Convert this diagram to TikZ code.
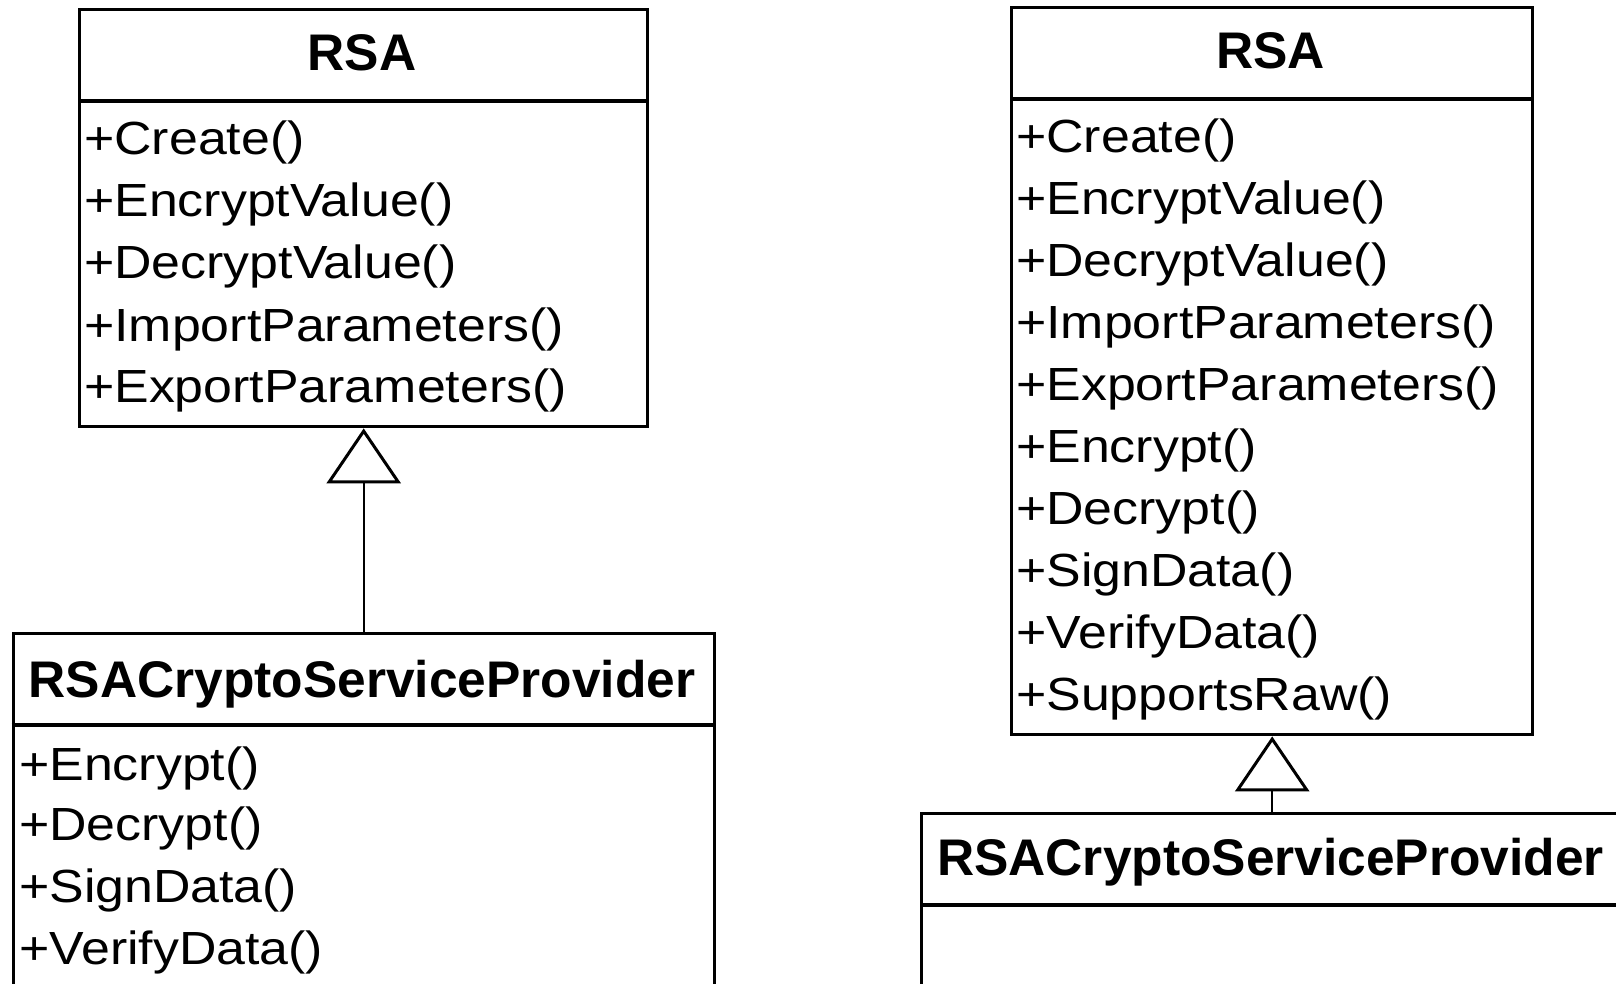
\documentclass[tikz,border=0pt]{standalone}
\usepackage{fontspec}
\setmainfont{Liberation Sans}
\newfontfamily\memberfont[FakeStretch=1.115]{Liberation Sans}
\usetikzlibrary{arrows.meta}

\begin{document}
\begin{tikzpicture}[x=1pt, y=-1pt,
  classbox/.style={draw=black, line width=3.4pt, rectangle, inner sep=0pt, anchor=north west},
  classname/.style={font=\fontsize{51.5}{60}\selectfont\bfseries, anchor=base, inner sep=0pt},
  member/.style={font=\memberfont\fontsize{46.5}{56}\selectfont, anchor=base west, inner sep=0pt},
  divider/.style={line width=3.2pt},
  inherits/.style={line width=2pt, -{Triangle[open, length=55pt, width=74pt, line width=3pt]}}
]
\useasboundingbox (0,0) rectangle (1616,983);
\clip (0,0) rectangle (1616,983);

% ---------- left: RSA with members, subclass adds its own ----------
\node[classbox, minimum width=568pt, minimum height=417pt] (rsaA) at (78,8) {};
\draw[divider] (rsaA.west |- 0,101) -- (rsaA.east |- 0,101);
\node[classname] (rsaAname) at (362,70) {RSA};
\node[member] (rsaA1) at (84,154) {+Create()};
\node[member] (rsaA2) at (84,216) {+EncryptValue()};
\node[member] (rsaA3) at (84,278) {+DecryptValue()};
\node[member] (rsaA4) at (84,341) {+ImportParameters()};
\node[member] (rsaA5) at (84,402) {+ExportParameters()};

\node[classbox, minimum width=701pt, minimum height=380pt] (cspA) at (11.5,632) {};
\draw[divider] (cspA.west |- 0,725) -- (cspA.east |- 0,725);
\node[classname] (cspAname) at (362,697) {RSACryptoServiceProvider};
\node[member] (cspA1) at (19,780) {+Encrypt()};
\node[member] (cspA2) at (19,840) {+Decrypt()};
\node[member] (cspA3) at (19,902) {+SignData()};
\node[member] (cspA4) at (19,964) {+VerifyData()};

\draw[inherits] (cspA.north) -- (rsaA.south);

% ---------- right: all members on RSA ----------
\node[classbox, minimum width=521pt, minimum height=727pt] (rsaB) at (1010,6) {};
\draw[divider] (rsaB.west |- 0,99) -- (rsaB.east |- 0,99);
\node[classname] (rsaBname) at (1270.5,68) {RSA};
\node[member] (rsaB1)  at (1016,152)   {+Create()};
\node[member] (rsaB2)  at (1016,214.1) {+EncryptValue()};
\node[member] (rsaB3)  at (1016,276.2) {+DecryptValue()};
\node[member] (rsaB4)  at (1016,338.3) {+ImportParameters()};
\node[member] (rsaB5)  at (1016,400.4) {+ExportParameters()};
\node[member] (rsaB6)  at (1016,462.5) {+Encrypt()};
\node[member] (rsaB7)  at (1016,524.6) {+Decrypt()};
\node[member] (rsaB8)  at (1016,586.7) {+SignData()};
\node[member] (rsaB9)  at (1016,648.8) {+VerifyData()};
\node[member] (rsaB10) at (1016,710.9) {+SupportsRaw()};

\node[classbox, minimum width=701pt, minimum height=200pt] (cspB) at (920,812) {};
\draw[divider] (cspB.west |- 0,905) -- (cspB.east |- 0,905);
\node[classname] (cspBname) at (1270.5,875) {RSACryptoServiceProvider};

\draw[inherits] (cspB.north) -- (rsaB.south);
\end{tikzpicture}
\end{document}
